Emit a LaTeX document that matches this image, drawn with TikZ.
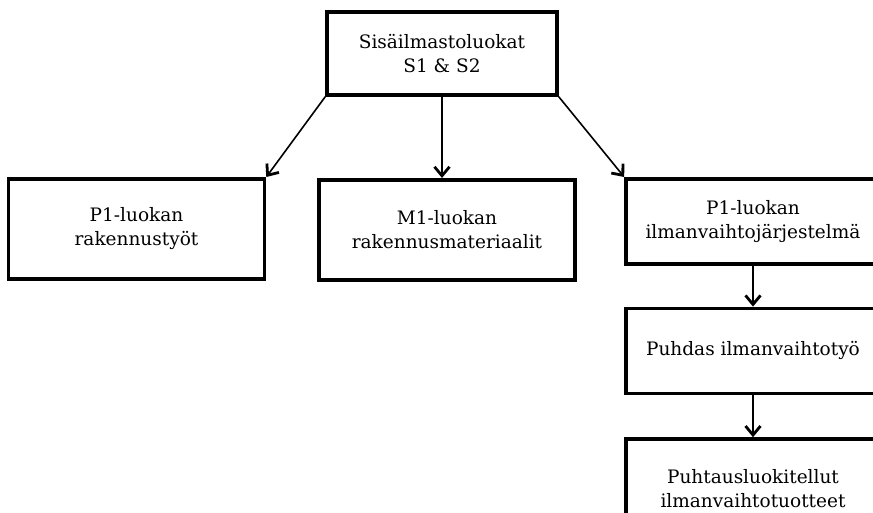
\documentclass[tikz,border=0pt]{standalone}
\usepackage{fontspec}
\setmainfont{DejaVu Serif}
\usetikzlibrary{positioning,arrows.meta}
\tikzstyle{class chart}=[
    -{Straight Barb[length=9pt,width=15pt,line width=2.8pt]},line width=1.6pt,node distance=41pt,
    every node/.style={
        align=center,
        font=\fontsize{18.5}{24}\selectfont,
    },
    box/.style={
        draw,
        line width=3.6pt,
        minimum width=256pt,
        minimum height=100pt,
        inner sep=0pt,
}]
\newcommand{\boxlabel}[2]{#1\\#2}

\begin{document}
\begin{tikzpicture}[class chart, x=1pt, y=1pt]
        \clip (0,0) rectangle (873,513);
        \node[box, minimum width=230pt, minimum height=83pt] (sisa) at (442,459.5) {\boxlabel{Sisäilmastoluokat}{S1 \& S2}};
        \node[box, anchor=north] (rak) at (136.5,336) {\boxlabel{P1-luokan}{rakennustyöt}};
        \node[box, anchor=north] (mat) at (447,335) {\boxlabel{M1-luokan}{rakennusmateriaalit}};
        \node[box, anchor=north, minimum width=254pt, minimum height=85pt] (ilm) at (753,336) {\boxlabel{P1-luokan}{ilmanvaihtojärjestelmä}};
        \node[box, below=of ilm, minimum width=254pt, minimum height=85pt] (puh) {Puhdas ilmanvaihtotyö};
        \node[box, below=42pt of puh, minimum width=254pt] (tuot) {\boxlabel{Puhtausluokitellut}{ilmanvaihtotuotteet}};

        \path
            (sisa.south west) edge (rak.north east)
            (sisa.south) edge (sisa.south |- mat.north)
            (sisa.south east) edge (ilm.north west)
            (ilm) edge (puh)
            (puh) edge (tuot)
        ;
\end{tikzpicture}
\end{document}
